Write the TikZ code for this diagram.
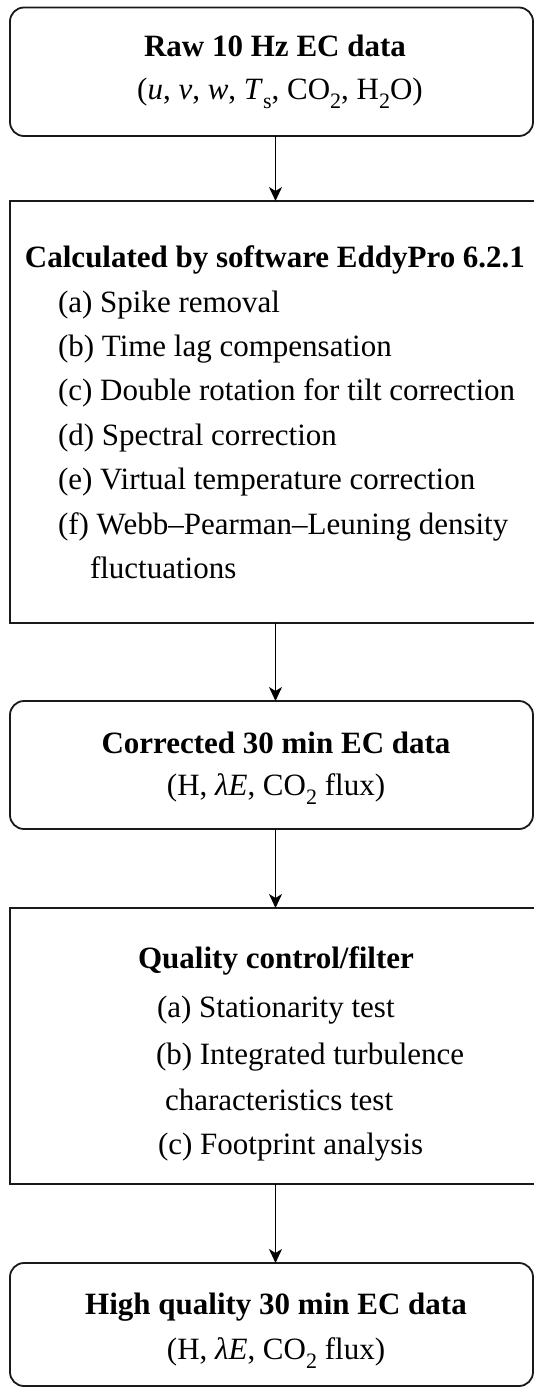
\documentclass[tikz,border=0pt]{standalone}
\usepackage{fontspec}
\setmainfont{Liberation Serif}
\usetikzlibrary{arrows.meta}
% lowered, smaller index used in the chemical and variable names
\newcommand{\lowsub}[1]{\raisebox{-0.3em}{\fontsize{22}{22}\selectfont #1}}
\begin{document}
\begin{tikzpicture}[x=1pt,y=-1pt,
  every node/.style={inner sep=0pt, outer sep=0pt},
  roundbox/.style={draw=black!90, line width=1.8pt, rounded corners=14pt, anchor=north west},
  sqbox/.style={draw=black!90, line width=1.8pt, anchor=north west},
  head/.style={anchor=base, font=\fontsize{31}{37}\selectfont\bfseries},
  centre/.style={anchor=base, font=\fontsize{31}{37}\selectfont},
  item/.style={anchor=base west, font=\fontsize{31}{37}\selectfont},
  arr/.style={-{Stealth[length=14pt,width=13pt,inset=4pt]}, line width=1.6pt}]
\useasboundingbox (0,0) rectangle (534,1387);

% the five stages
\node[roundbox, minimum width=523pt, minimum height=128.5pt] (raw) at (10,7.5) {};
\node[sqbox, minimum width=530pt, minimum height=422pt] (calc) at (10,201) {};
\node[roundbox, minimum width=523pt, minimum height=128pt] (corr) at (10,701) {};
\node[sqbox, minimum width=530pt, minimum height=276pt] (qc) at (10,908) {};
\node[roundbox, minimum width=523pt, minimum height=123pt] (hq) at (10,1263) {};

% stage 1
\node[head] (rawt) at (275,56) {Raw 10 Hz EC data};
\node[centre] (rawv) at (280,99) {(\textit{u}, \textit{v}, \textit{w}, \textit{T}\lowsub{s}, CO\lowsub{2}, H\lowsub{2}O)};

% stage 2
\node[head] (calct) at (275,267) {Calculated by software EddyPro 6.2.1};
\node[item] (c1) at (58,312) {(a) Spike removal};
\node[item] (c2) at (58,356.4) {(b) Time lag compensation};
\node[item] (c3) at (58,400.8) {(c) Double rotation for tilt correction};
\node[item] (c4) at (58,445.2) {(d) Spectral correction};
\node[item] (c5) at (58,489.6) {(e) Virtual temperature correction};
\node[item] (c6) at (58,534) {(f) Webb–Pearman–Leuning density};
\node[item] (c7) at (90,578.4) {fluctuations};

% stage 3
\node[head] (corrt) at (276,753) {Corrected 30 min EC data};
\node[centre] (corrv) at (276,795) {(H, \textit{λE}, CO\lowsub{2} flux)};

% stage 4
\node[head] (qct) at (276,968) {Quality control/filter};
\node[item] (q1) at (157,1017) {(a) Stationarity test};
\node[item] (q2) at (156,1064) {(b) Integrated turbulence};
\node[item] (q3) at (165,1110) {characteristics test};
\node[item] (q4) at (158,1154) {(c) Footprint analysis};

% stage 5
\node[head] (hqt) at (276,1314.5) {High quality 30 min EC data};
\node[centre] (hqv) at (276,1359) {(H, \textit{λE}, CO\lowsub{2} flux)};

% connectors
\coordinate (ax) at (275.5,0);
\draw[arr] (raw.south -| ax) -- (calc.north -| ax);
\draw[arr] (calc.south -| ax) -- (corr.north -| ax);
\draw[arr] (corr.south -| ax) -- (qc.north -| ax);
\draw[arr] (qc.south -| ax) -- (hq.north -| ax);
\end{tikzpicture}
\end{document}
